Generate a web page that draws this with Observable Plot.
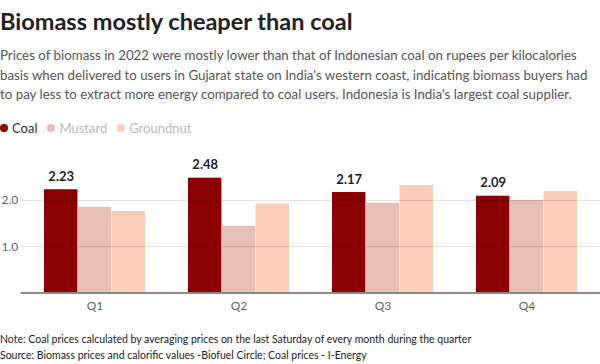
<!DOCTYPE html>
<html>
<head>
<meta charset="utf-8">
<script src="https://cdn.jsdelivr.net/npm/d3@7"></script>
<script src="https://cdn.jsdelivr.net/npm/@observablehq/plot@0.6"></script>
<style>
  body { margin: 0; background: #fff; font-family: Lato, "Open Sans", sans-serif; }
  #wrap { position: relative; width: 600px; height: 364px; overflow: hidden; }
  .title { position: absolute; left: 0; top: 7px; font-size: 23.5px; font-weight: 700; color: #222; line-height: 28px; white-space: nowrap; }
  .sub { position: absolute; left: 0; top: 46px; color: #555; line-height: 19.5px; white-space: nowrap; }
  .legend { position: absolute; left: 0; top: 120px; font-size: 13px; line-height: 16px; display: flex; gap: 10px; }
  .legend span.item { display: flex; align-items: center; }
  .legend i { display: inline-block; width: 8px; height: 8px; border-radius: 50%; margin-right: 4px; }
  #chart { position: absolute; left: 0; top: 140px; }
  .note { position: absolute; left: 0; top: 331px; color: #222; line-height: 16px; white-space: nowrap; font-size: 10.5px; }
</style>
</head>
<body>
<div id="wrap">
  <div class="title">Biomass mostly cheaper than coal</div>
  <div class="sub" id="sub"><span>Prices of biomass in 2022 were mostly lower than that of Indonesian coal on rupees per kilocalories</span><br>basis when delivered to users in Gujarat state on India's western coast, indicating biomass buyers had<br>to pay less to extract more energy compared to coal users. Indonesia is India's largest coal supplier.</div>
  <div class="legend" id="legend"></div>
  <div id="chart"></div>
  <div class="note" id="note">Note: Coal prices calculated by averaging prices on the last Saturday of every month during the quarter<br>Source: Biomass prices and calorific values -Biofuel Circle; Coal prices - I-Energy</div>
</div>
<script>
const quarters = ["Q1", "Q2", "Q3", "Q4"];
const series = ["Coal", "Mustard", "Groundnut"];
const coal = [2.23, 2.48, 2.17, 2.09];
const mustard = [1.85, 1.44, 1.94, 2.00];
const groundnut = [1.76, 1.92, 2.32, 2.19];
const yTicks = [1, 2];
const colors = ["#8b0000", "#e8bfb5", "#f9cdb8"];
const legendText = ["#333", "#bbb", "#bbb"];

const valuesBySeries = {Coal: coal, Mustard: mustard, Groundnut: groundnut};
const data = quarters.flatMap((q, i) => series.map(s => ({quarter: q, series: s, value: valuesBySeries[s][i]})));

// fit the subtitle to the reference line width
function fit(id, targetWidth, startSize) {
  const el = document.getElementById(id);
  el.style.fontSize = startSize + "px";
  const w = el.querySelector("span").getBoundingClientRect().width;
  el.style.fontSize = (startSize * targetWidth / w) + "px";
}
fit("sub", 577, 14.5);

const legend = document.getElementById("legend");
series.forEach((s, i) => {
  const el = document.createElement("span");
  el.className = "item";
  el.innerHTML = `<i style="background:${colors[i]}"></i><span style="color:${legendText[i]}">${s}</span>`;
  legend.appendChild(el);
});

const W = 600, ML = 20.7, MR = 0;
const padInner = 0.3, padOuter = 0.15;
const step = (W - ML - MR) / (quarters.length - padInner + 2 * padOuter);
const third = step * (1 - padInner) / series.length;
const insets = {Coal: [0, 2 * third], Mustard: [third, third], Groundnut: [2 * third, 0]};

const chart = Plot.plot({
  width: W,
  height: 180,
  marginLeft: ML,
  marginRight: MR,
  marginTop: 36.75,
  marginBottom: 27.5,
  style: {fontFamily: "Lato, 'Open Sans', sans-serif", fontSize: "12px", color: "#666", background: "#fff"},
  x: {domain: quarters, paddingInner: padInner, paddingOuter: padOuter, label: null, tickSize: 0, tickPadding: 8},
  y: {domain: [0, 2.5], axis: null},
  color: {domain: series, range: colors},
  marks: [
    ...series.map(s => Plot.barY(data.filter(d => d.series === s), {
      x: "quarter", y: "value", fill: "series",
      insetLeft: insets[s][0], insetRight: insets[s][1]
    })),
    Plot.ruleY(yTicks, {stroke: "#000", strokeOpacity: 0.13}),
    Plot.ruleY([0], {stroke: "#888", strokeWidth: 2}),
    Plot.text(yTicks, {y: d => d, text: d => d.toFixed(1), frameAnchor: "left", textAnchor: "start", dx: -ML + 1, fill: "#666", fontSize: 12}),
    Plot.text(data.filter(d => d.series === "Coal"), {x: "quarter", y: "value", text: d => d.value.toFixed(2), dx: -third, dy: -13, fill: "#222", fontWeight: "bold", fontSize: 13})
  ]
});
document.getElementById("chart").appendChild(chart);
</script>
</body>
</html>
